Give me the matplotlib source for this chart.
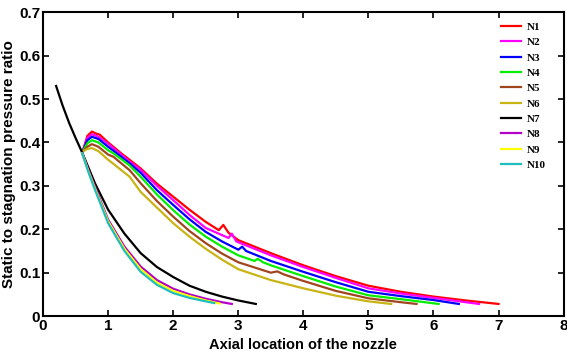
import matplotlib.pyplot as plt

# N1 .. N6 (long nozzles)
x1 = [0.62, 0.68, 0.75, 0.82, 0.87, 1.0, 1.08, 1.2, 1.33, 1.5, 1.75, 2.0, 2.25, 2.5, 2.7, 2.77, 2.85, 3.0, 3.5, 4.0, 4.5, 5.0, 5.5, 6.0, 6.5, 7.0]
y1 = [0.385, 0.415, 0.425, 0.42, 0.418, 0.40, 0.39, 0.375, 0.36, 0.34, 0.305, 0.275, 0.245, 0.217, 0.198, 0.21, 0.192, 0.175, 0.145, 0.117, 0.092, 0.07, 0.056, 0.045, 0.036, 0.028]

x2 = [0.62, 0.68, 0.75, 0.85, 1.0, 1.08, 1.33, 1.5, 1.75, 2.0, 2.25, 2.5, 2.85, 2.9, 2.97, 3.5, 4.0, 4.5, 5.0, 5.5, 6.0, 6.5, 6.7]
y2 = [0.385, 0.41, 0.419, 0.413, 0.397, 0.387, 0.356, 0.337, 0.30, 0.267, 0.233, 0.203, 0.18, 0.19, 0.172, 0.14, 0.113, 0.088, 0.064, 0.052, 0.042, 0.032, 0.028]

x3 = [0.62, 0.68, 0.75, 0.85, 1.0, 1.08, 1.33, 1.5, 1.75, 2.0, 2.25, 2.5, 2.75, 3.0, 3.06, 3.12, 3.5, 4.0, 4.5, 5.0, 5.5, 6.0, 6.39]
y3 = [0.383, 0.405, 0.413, 0.408, 0.39, 0.381, 0.352, 0.33, 0.29, 0.256, 0.223, 0.194, 0.172, 0.153, 0.16, 0.15, 0.127, 0.102, 0.078, 0.056, 0.046, 0.037, 0.028]

x4 = [0.62, 0.68, 0.75, 0.85, 1.0, 1.08, 1.33, 1.5, 1.75, 2.0, 2.25, 2.5, 2.75, 3.0, 3.25, 3.3, 3.38, 3.5, 4.0, 4.5, 5.0, 5.5, 6.08]
y4 = [0.382, 0.398, 0.405, 0.40, 0.382, 0.375, 0.347, 0.321, 0.28, 0.244, 0.211, 0.183, 0.16, 0.14, 0.127, 0.132, 0.124, 0.117, 0.092, 0.068, 0.048, 0.039, 0.028]

x5 = [0.62, 0.68, 0.75, 0.85, 1.0, 1.08, 1.33, 1.5, 1.75, 2.0, 2.25, 2.5, 2.75, 3.0, 3.5, 3.6, 3.7, 4.0, 4.5, 5.0, 5.5, 5.74]
y5 = [0.38, 0.39, 0.396, 0.39, 0.372, 0.367, 0.336, 0.306, 0.265, 0.229, 0.196, 0.168, 0.144, 0.124, 0.1, 0.103, 0.096, 0.081, 0.058, 0.041, 0.032, 0.028]

x6 = [0.62, 0.68, 0.75, 0.85, 1.0, 1.07, 1.33, 1.5, 1.75, 2.0, 2.25, 2.5, 2.75, 3.0, 3.5, 4.0, 4.5, 5.0, 5.35]
y6 = [0.38, 0.385, 0.387, 0.38, 0.36, 0.352, 0.321, 0.286, 0.25, 0.214, 0.183, 0.155, 0.13, 0.108, 0.083, 0.064, 0.047, 0.034, 0.028]

# N7 .. N10 (short nozzles)
x7 = [0.2, 0.3, 0.4, 0.5, 0.6, 0.8, 1.0, 1.25, 1.5, 1.75, 2.0, 2.25, 2.5, 2.75, 3.0, 3.27]
y7 = [0.53, 0.485, 0.445, 0.41, 0.377, 0.305, 0.245, 0.19, 0.145, 0.113, 0.09, 0.07, 0.056, 0.045, 0.036, 0.028]

x8 = [0.6, 0.7, 0.8, 1.0, 1.25, 1.5, 1.75, 2.0, 2.25, 2.5, 2.75, 2.9]
y8 = [0.375, 0.335, 0.297, 0.222, 0.16, 0.114, 0.083, 0.063, 0.05, 0.04, 0.032, 0.028]

x9 = [0.6, 0.7, 0.8, 1.0, 1.25, 1.5, 1.75, 2.0, 2.25, 2.5, 2.71]
y9 = [0.375, 0.332, 0.293, 0.218, 0.155, 0.108, 0.077, 0.058, 0.046, 0.036, 0.029]

x10 = [0.6, 0.7, 0.8, 1.0, 1.25, 1.5, 1.75, 2.0, 2.25, 2.5, 2.63]
y10 = [0.375, 0.33, 0.29, 0.214, 0.15, 0.102, 0.072, 0.053, 0.042, 0.034, 0.03]

labels = ['N1', 'N2', 'N3', 'N4', 'N5', 'N6', 'N7', 'N8', 'N9', 'N10']
colors = ['#ff0000', '#ff00ff', '#0000ff', '#00ee00', '#a0461e',
          '#c8b414', '#000000', '#b400c8', '#ffff00', '#1ebebe']
xs = [x1, x2, x3, x4, x5, x6, x7, x8, x9, x10]
ys = [y1, y2, y3, y4, y5, y6, y7, y8, y9, y10]

sans = ['Liberation Sans Narrow', 'Liberation Sans', 'DejaVu Sans']

fig = plt.figure(figsize=(5.67, 3.58), dpi=100)
ax = fig.add_axes([0.076, 0.117, 0.918, 0.849])

for x, y, c, l in zip(xs, ys, colors, labels):
    ax.plot(x, y, color=c, lw=1.6, label=l)

ax.set_xlim(0, 8)
ax.set_ylim(0, 0.7)
ax.set_xticks(range(9))
ax.set_yticks([0, 0.1, 0.2, 0.3, 0.4, 0.5, 0.6, 0.7])
ax.set_yticklabels(['0', '0.1', '0.2', '0.3', '0.4', '0.5', '0.6', '0.7'])
ax.tick_params(direction='in', top=True, right=True, length=4, width=1.2, pad=2)
for t in ax.get_xticklabels() + ax.get_yticklabels():
    t.set_family(sans)
    t.set_fontweight('bold')
    t.set_fontsize(11)
for s in ax.spines.values():
    s.set_linewidth(1.5)

ax.set_xlabel('Axial location of the nozzle', family=sans, fontweight='bold',
              fontsize=10.5, labelpad=4)
ax.set_ylabel('Static to stagnation pressure ratio', family=sans, fontweight='bold',
              fontsize=11, labelpad=2)

ax.legend(loc='upper right', bbox_to_anchor=(0.985, 1.0), frameon=False,
          prop={'family': 'Liberation Serif', 'weight': 'bold', 'size': 8},
          handlelength=1.8, handletextpad=0.5, labelspacing=0.5)

fig.savefig('out.png', dpi=100)
